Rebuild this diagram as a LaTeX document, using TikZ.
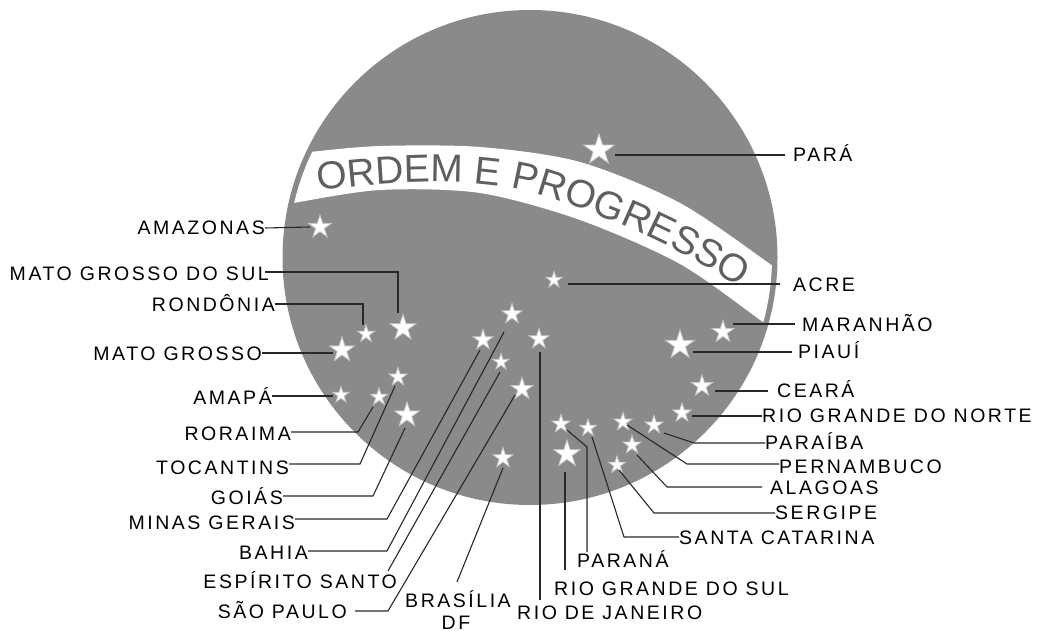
\documentclass[tikz,border=0pt]{standalone}
\usepackage{fontspec}
\setmainfont{Liberation Sans}
\newfontfamily\labfam[LetterSpace=13]{Liberation Sans}
\newcommand\labfont{\labfam\fontsize{19.5}{19.5}\selectfont}
\newcommand\banfont{\fontsize{3.9}{3.9}\selectfont}
\usetikzlibrary{shapes.geometric,decorations.text}
\definecolor{disk}{RGB}{138,138,138}
\definecolor{bantext}{RGB}{95,95,95}
\definecolor{ink}{RGB}{40,40,40}
\begin{document}
\begin{tikzpicture}[x=1pt,y=-1pt,
  st/.style={star,star points=5,star point ratio=2.618,fill=white,draw=white!55!disk,line width=0.8pt,inner sep=0pt,minimum size=#1},
  lab/.style={font=\labfont,inner sep=0pt,text height=14pt,text depth=0pt},
  con/.style={draw=ink,line width=1.1pt}]
\useasboundingbox (0,0) rectangle (1037,631);
% disk
\fill[disk] (530,257.5) circle[radius=247.5];
% banner
\begin{scope}
\clip (530,257.5) circle[radius=242];
\fill[white] plot[smooth] coordinates {(270,157) (310,152) (380,146) (480,147) (580,162) (680,203) (770,264) (800,287)}
  -- plot[smooth] coordinates {(800,348) (763,322) (680,264) (580,220) (480,193) (380,190) (293,203) (270,207)} -- cycle;
\end{scope}
\begin{scope}[transform canvas={scale=10},x=0.1pt,y=-0.1pt]
\path[decorate,decoration={text along path,text align=left,text={|\banfont\color{bantext}|ORDEM E PROGRESSO}}]
  (318,191) .. controls (420,177) and (500,179) .. (560,201) .. controls (640,229) and (700,259) .. (775,310);
\end{scope}
% stars
\node[st=32] (sPara) at (599,150) {};
\node[st=24] (sAmaz) at (320,227) {};
\node[st=17] (sAcre) at (554,280) {};
\node[st=27] (sMgds) at (403,328) {};
\node[st=18] (sRond) at (366,334) {};
\node[st=26] (sMgro) at (342,350) {};
\node[st=19] (sToca) at (398,377) {};
\node[st=17] (sAmap) at (341,395) {};
\node[st=18] (sRora) at (379,397) {};
\node[st=26] (sGoia) at (407,415) {};
\node[st=21] (sMina) at (483,340) {};
\node[st=21] (sBahi) at (512,314) {};
\node[st=21] (sRjan) at (539,339) {};
\node[st=17] (sEspi) at (501,362) {};
\node[st=23] (sSaop) at (522,389) {};
\node[st=21] (sBras) at (503,458) {};
\node[st=23] (sMara) at (723,332) {};
\node[st=30] (sPiau) at (680,345) {};
\node[st=22] (sCear) at (702,386) {};
\node[st=20] (sRgno) at (682,413) {};
\node[st=19] (sPrna) at (561,424) {};
\node[st=18] (sScat) at (588,428) {};
\node[st=19] (sPern) at (623,422) {};
\node[st=19] (sPaib) at (654,425) {};
\node[st=19] (sAlag) at (632,445) {};
\node[st=18] (sSerg) at (617,465) {};
\node[st=28] (sRgsu) at (567,454) {};
% left labels
\node[lab,anchor=east] (amaz) at (265,228) {AMAZONAS};
\node[lab,anchor=east] (mgds) at (269,274) {MATO GROSSO DO SUL};
\node[lab,anchor=east] (rond) at (275,305) {RONDÔNIA};
\node[lab,anchor=east] (mgro) at (262,353) {MATO GROSSO};
\node[lab,anchor=east] (amap) at (272,397) {AMAPÁ};
\node[lab,anchor=east] (rora) at (291,433) {RORAIMA};
\node[lab,anchor=east] (toca) at (289,467) {TOCANTINS};
\node[lab,anchor=east] (goia) at (283,497) {GOIÁS};
\node[lab,anchor=east] (mina) at (295,522) {MINAS GERAIS};
\node[lab,anchor=east] (bahi) at (308,552) {BAHIA};
\node[lab,anchor=east] (espi) at (397,581) {ESPÍRITO SANTO};
\node[lab,anchor=east] (saop) at (347,611) {SÃO PAULO};
\node[lab] (bras) at (458,600) {BRASÍLIA};
\node[lab] (df) at (456,622) {DF};
% right labels
\node[lab,anchor=west] (para) at (793,155) {PARÁ};
\node[lab,anchor=west] (acre) at (793,285) {ACRE};
\node[lab,anchor=west] (mara) at (802,324) {MARANHÃO};
\node[lab,anchor=west] (piau) at (798,352) {PIAUÍ};
\node[lab,anchor=west] (cear) at (777,390) {CEARÁ};
\node[lab,anchor=west] (rgno) at (762,415) {RIO GRANDE DO NORTE};
\node[lab,anchor=west] (paib) at (765,442) {PARAÍBA};
\node[lab,anchor=west] (pern) at (779,466) {PERNAMBUCO};
\node[lab,anchor=west] (alag) at (770,487) {ALAGOAS};
\node[lab,anchor=west] (serg) at (775,512) {SERGIPE};
\node[lab,anchor=west] (scat) at (679,537) {SANTA CATARINA};
\node[lab,anchor=west] (prna) at (577,560) {PARANÁ};
\node[lab,anchor=west] (rgsu) at (554,588) {RIO GRANDE DO SUL};
\node[lab,anchor=west] (rjan) at (517,612) {RIO DE JANEIRO};
% connectors left
\draw[con] (amaz.east) -- ([shift={(-10,0)}]sAmaz.center);
\draw[con] ([shift={(-4,-2)}]mgds.east) -| ([shift={(-5,-15)}]sMgds.center);
\draw[con] ([shift={(0,-1)}]rond.east) -| ([shift={(-3,-9)}]sRond.center);
\draw[con] (mgro.east) -- ([shift={(-9,3)}]sMgro.center);
\draw[con] ([shift={(0,-1)}]amap.east) -- ([shift={(-8,1)}]sAmap.center);
\draw[con] ([shift={(0,-1)}]rora.east) -- ++(67,0) -- ([shift={(-6,10)}]sRora.center);
\draw[con] ([shift={(0,-3)}]toca.east) -- ++(71,0) -- ([shift={(-3,9)}]sToca.center);
\draw[con] ([shift={(0,-1)}]goia.east) -- ++(90,0) -- ([shift={(-2,13)}]sGoia.center);
\draw[con] ([shift={(0,-3)}]mina.east) -- ++(92,0) -- ([shift={(-3,10)}]sMina.center);
\draw[con] ([shift={(0,-1)}]bahi.east) -- ++(79,0) -- ([shift={(-8,18)}]sBahi.center);
\draw[con] ([shift={(-9,-10)}]espi.east) -- ([shift={(-1,10)}]sEspi.center);
\draw[con] ([shift={(8,0)}]saop.east) -- ++(33,0) -- ([shift={(-7,6)}]sSaop.center);
\draw[con] ([shift={(-1,-18)}]bras.center) -- ([shift={(0,10)}]sBras.center);
% connectors right
\draw[con] ([shift={(-8,0)}]para.west) -- ([shift={(16,5)}]sPara.center);
\draw[con] ([shift={(-13,-1)}]acre.west) -- ([shift={(14,4)}]sAcre.center);
\draw[con] ([shift={(-7,0)}]mara.west) -- ([shift={(10,-8)}]sMara.center);
\draw[con] ([shift={(-6,0)}]piau.west) -- ([shift={(13,7)}]sPiau.center);
\draw[con] ([shift={(-9,1)}]cear.west) -- ([shift={(13,5)}]sCear.center);
\draw[con] ([shift={(0,1)}]rgno.west) -- ([shift={(10,3)}]sRgno.center);
\draw[con] ([shift={(0,1)}]paib.west) -- ++(-71,0) -- ([shift={(10,8)}]sPaib.center);
\draw[con] ([shift={(0,-2)}]pern.west) -- ++(-92,0) -- ([shift={(4,3)}]sPern.center);
\draw[con] ([shift={(-8,0)}]alag.west) -- ++(-95,0) -- ([shift={(5,10)}]sAlag.center);
\draw[con] ([shift={(0,1)}]serg.west) -- ++(-121,0) -- ([shift={(2,5)}]sSerg.center);
\draw[con] (scat.west) -- ++(-55,0) -- ([shift={(4,9)}]sScat.center);
\draw[con] ([shift={(10,-8)}]prna.west) -- ++(0,-105) -- ([shift={(6,6)}]sPrna.center);
\draw[con] ([shift={(11,-18)}]rgsu.west) -- ([shift={(-2,18)}]sRgsu.center);
\draw[con] ([shift={(23,-12)}]rjan.west) -- ([shift={(1,13)}]sRjan.center);
\end{tikzpicture}
\end{document}
